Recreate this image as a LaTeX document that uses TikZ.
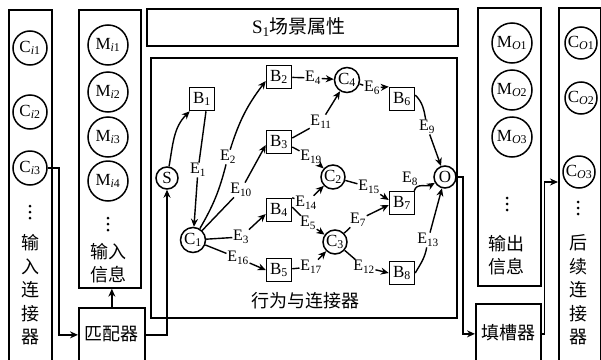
\documentclass[tikz,border=0pt]{standalone}
\usepackage{fontspec}
\setmainfont{Liberation Serif}
\newfontfamily\cjk{Noto Sans CJK SC}
\usetikzlibrary{arrows.meta}
\begin{document}
\begin{tikzpicture}[x=1pt,y=-1pt,
  col/.style={draw, line width=1.7pt, anchor=north west, inner sep=0pt},
  ccir/.style={circle, draw, line width=1.5pt, inner sep=0pt, font=\fontsize{17}{17}\selectfont},
  bnode/.style={draw, line width=1.5pt, minimum width=25pt, minimum height=23pt, inner sep=0pt, font=\fontsize{17}{17}\selectfont},
  snode/.style={circle, draw, line width=1.5pt, minimum size=22pt, inner sep=0pt, font=\fontsize{17}{17}\selectfont},
  lab/.style={inner sep=0.6pt, font=\fontsize{16}{16}\selectfont},
  cjkt/.style={font=\cjk\fontsize{18}{23.5}\selectfont, align=center, inner sep=0pt},
  edge/.style={line width=1.4pt},
  arr/.style={line width=1.4pt, -{Stealth[length=8pt,width=7pt]}},
  conn/.style={line width=1.5pt, -{Stealth[length=8pt,width=7pt]}},
  dot/.style={fill, circle, inner sep=0pt, minimum size=3pt},
]
\clip (0,0) rectangle (601,359);
\fill[white] (0,0) rectangle (601,359);

% columns and boxes
\node[col, minimum width=43pt, minimum height=360pt] (cibox) at (8,9) {};
\node[col, minimum width=62pt, minimum height=278pt] (mibox) at (78,9) {};
\node[col, minimum width=66pt, minimum height=54pt] (pipei) at (78,307) {};
\node[col, minimum width=311pt, minimum height=37pt] (scene) at (146,8) {};
\node[col, minimum width=306pt, minimum height=260pt] (big) at (150,57) {};
\node[col, minimum width=63pt, minimum height=278pt] (mobox) at (477,7) {};
\node[col, minimum width=65pt, minimum height=60pt] (tiancao) at (475,303) {};
\node[col, minimum width=42pt, minimum height=360pt] (cobox) at (558,7) {};

% texts of boxes
\node[inner sep=0pt, font=\fontsize{19}{19}\selectfont] (scenet) at (299,27) {S\textsubscript{1}{\cjk 场景属性}};
\node[cjkt] (bigt) at (305,301) {行为与连接器};
\node[cjkt] (pipeit) at (111,334) {匹配器};
\node[cjkt] (tiancaot) at (508,333) {填槽器};

% input connector column
\node[ccir, minimum size=34pt] (ci1) at (30,48) {C\textsubscript{\textit{i}1}};
\node[ccir, minimum size=34pt] (ci2) at (30,112) {C\textsubscript{\textit{i}2}};
\node[ccir, minimum size=34pt] (ci3) at (30,168) {C\textsubscript{\textit{i}3}};
\foreach \k in {-6,0,6} \node[dot] at (30,212+\k) {};
\node[cjkt] (cit) at (30,290) {输\\入\\连\\接\\器};

% input info column
\node[ccir, minimum size=40pt] (mi1) at (108,45) {M\textsubscript{\textit{i}1}};
\node[ccir, minimum size=40pt] (mi2) at (108,92) {M\textsubscript{\textit{i}2}};
\node[ccir, minimum size=40pt] (mi3) at (108,137) {M\textsubscript{\textit{i}3}};
\node[ccir, minimum size=40pt] (mi4) at (108,181) {M\textsubscript{\textit{i}4}};
\foreach \k in {-6,0,6} \node[dot] at (108,224+\k) {};
\node[cjkt] (mit) at (108,263) {输入\\信息};

% output info column
\node[ccir, minimum size=40pt] (mo1) at (512,43) {M\textsubscript{\textit{O}1}};
\node[ccir, minimum size=40pt] (mo2) at (512,90) {M\textsubscript{\textit{O}2}};
\node[ccir, minimum size=40pt] (mo3) at (512,137) {M\textsubscript{\textit{O}3}};
\foreach \k in {-6,0,6} \node[dot] at (507,204+\k) {};
\node[cjkt] (mot) at (506,255) {输出\\信息};

% output connector column
\node[ccir, minimum size=32pt] (co1) at (581,43) {C\textsubscript{\textit{O}1}};
\node[ccir, minimum size=32pt] (co2) at (581,98) {C\textsubscript{\textit{O}2}};
\node[ccir, minimum size=32pt] (co3) at (579,172) {C\textsubscript{\textit{O}3}};
\foreach \k in {-6,0,6} \node[dot] at (578,208+\k) {};
\node[cjkt] (cot) at (578,290) {后\\续\\连\\接\\器};

% graph nodes
\node[snode] (S) at (167,178) {S};
\node[bnode] (B1) at (202,99) {B\textsubscript{1}};
\node[bnode] (B2) at (279,77) {B\textsubscript{2}};
\node[bnode] (B3) at (279,142) {B\textsubscript{3}};
\node[bnode] (B4) at (279,210) {B\textsubscript{4}};
\node[bnode] (B5) at (279,270) {B\textsubscript{5}};
\node[snode, minimum size=25pt] (C1) at (193,240) {C\textsubscript{1}};
\node[snode, minimum size=25pt] (C4) at (347,80) {C\textsubscript{4}};
\node[snode, minimum size=24pt] (C2) at (333,177) {C\textsubscript{2}};
\node[snode, minimum size=24pt] (C3) at (335,242) {C\textsubscript{3}};
\node[bnode] (B6) at (402,99) {B\textsubscript{6}};
\node[bnode] (B7) at (402,203) {B\textsubscript{7}};
\node[bnode] (B8) at (402,273) {B\textsubscript{8}};
\node[snode] (O) at (445,177) {O};

% edge labels
\node[lab] (E1) at (198,170) {E\textsubscript{1}};
\node[lab] (E2) at (228,157) {E\textsubscript{2}};
\node[lab] (E10) at (241,190) {E\textsubscript{10}};
\node[lab] (E3) at (241,237) {E\textsubscript{3}};
\node[lab] (E16) at (238,258) {E\textsubscript{16}};
\node[lab] (E4) at (313,78) {E\textsubscript{4}};
\node[lab] (E11) at (321,122) {E\textsubscript{11}};
\node[lab] (E19) at (311,157) {E\textsubscript{19}};
\node[lab] (E14) at (306,203) {E\textsubscript{14}};
\node[lab] (E5) at (308,223) {E\textsubscript{5}};
\node[lab] (E17) at (311,267) {E\textsubscript{17}};
\node[lab] (E6) at (372,88) {E\textsubscript{6}};
\node[lab] (E15) at (369,187) {E\textsubscript{15}};
\node[lab] (E7) at (358,220) {E\textsubscript{7}};
\node[lab] (E12) at (364,267) {E\textsubscript{12}};
\node[lab] (E9) at (427,127) {E\textsubscript{9}};
\node[lab] (E8) at (410,179) {E\textsubscript{8}};
\node[lab] (E13) at (428,240) {E\textsubscript{13}};

% edges
\draw[arr] (S) to[out=80,in=-135] (B1);
\draw[edge] ([xshift=4pt]B1.south) -- (E1);
\draw[arr] (E1) -- (C1);
\draw[edge] (C1) to[bend right=8] (E2);
\draw[arr] (E2) to[bend left=10] ([yshift=-4pt]B2.west);
\draw[edge] (C1) -- (E10);
\draw[arr] (E10) -- ([yshift=-3pt]B3.west);
\draw[edge] (C1) -- (E3);
\draw[arr] (E3) -- ([yshift=-4pt]B4.west);
\draw[edge] (C1) -- (E16);
\draw[arr] (E16) -- (B5.west);
\draw[edge] (B2) -- (E4);
\draw[arr] (E4) -- (C4);
\draw[edge] ([yshift=4pt]B3.east) -- (E11);
\draw[arr] (E11) -- (C4);
\draw[edge] ([yshift=-5pt]B3.east) -- (E19);
\draw[arr] (E19) -- (C2);
\draw[edge] (B4.north east) -- (E14);
\draw[arr] (E14) -- (C2);
\draw[edge] ([yshift=3pt]B4.east) -- (E5);
\draw[arr] (E5) -- (C3);
\draw[edge] (B5) -- (E17);
\draw[arr] (E17) -- (C3);
\draw[edge] (C4) -- (E6);
\draw[arr] (E6) -- (B6.north west);
\draw[edge] (C2) -- (E15);
\draw[arr] (E15) -- ([yshift=3pt]B7.west);
\draw[edge] (C3) -- (E7);
\draw[arr] (E7) -- ([yshift=-2pt]B7.west);
\draw[edge] (C3) -- (E12);
\draw[arr] (E12) -- (B8.west);
\draw[edge] ([yshift=4pt]B6.east) to[out=-45,in=100] (E9);
\draw[arr] (E9) -- (O);
\draw[arr] ([xshift=-1pt]B7.north east) to[out=75,in=210] (O);
\draw[edge] (B8.east) to[out=60,in=-100] (E13);
\draw[arr] (E13) -- (O);

% outer connectors
\coordinate (coin) at (558,182);
\draw[conn] (ci3.east) -- ([xshift=11pt]ci3.east) |- (pipei.west);
\draw[conn] (pipei.north) -- (pipei.north |- mibox.south);
\draw[conn] (pipei.east) -| (S.south);
\draw[conn] (O.east) -- ([xshift=6pt]O.east) |- (tiancao.west);
\draw[conn] (tiancao.east) -- ([xshift=3pt]tiancao.east) |- (coin);
\end{tikzpicture}
\end{document}
